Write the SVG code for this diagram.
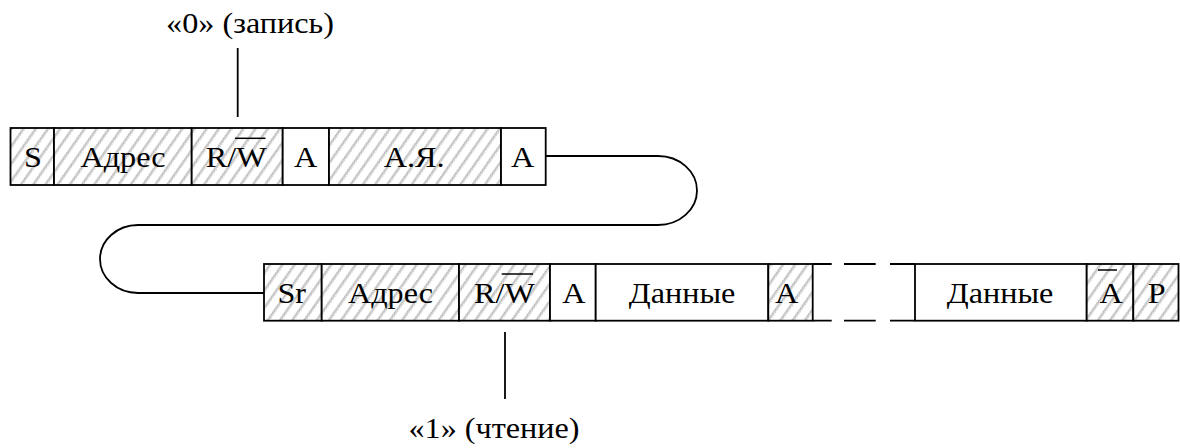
<svg xmlns="http://www.w3.org/2000/svg" width="1180" height="448" viewBox="0 0 1180 448">
  <defs>
    <!-- diagonal braided hatching for the shaded fields -->
    <pattern id="hatch" patternUnits="userSpaceOnUse" width="10" height="6" patternTransform="rotate(35)">
      <rect width="10" height="6" fill="#fff"/>
      <path d="M2 0 L4.4 3 L2 6 M4.4 0 L2 3 L4.4 6" stroke="#a8a8a8" stroke-width="0.9" fill="none"/>
    </pattern>
    <style>
      .box { stroke: #000; stroke-width: 1.8; }
      .sh { fill: url(#hatch); }
      .wh { fill: #fff; }
      .t { font-family: "Liberation Serif", "Times New Roman", serif; font-size: 28.5px; fill: #000; text-anchor: middle; }
      .ln { stroke: #000; stroke-width: 1.8; fill: none; }
      .ov { stroke: #000; stroke-width: 1.5; }
    </style>
  </defs>
  <rect width="1180" height="448" fill="#fff"/>

  <!-- connectors: loop between the two frames and the R/W callouts -->
  <g id="connectors">
    <path class="ln" d="M545.7 156 H658 A39 34.5 0 0 1 658 225 H138 A38 34 0 0 0 138 293 H264"/>
    <line class="ln" x1="237.7" y1="48" x2="237.7" y2="117"/>
    <line class="ln" x1="505" y1="332" x2="505" y2="399"/>
    <!-- broken continuation of the data stream -->
    <path class="ln" d="M812.7 264 H831.7 M844 264 H875.7 M890 264 H915 M812.7 320.7 H831.7 M844 320.7 H875.7 M890 320.7 H915"/>
  </g>

  <!-- labels (glyphs widened 1.13x, as in the printed figure) -->
  <g id="label-write">
    <text class="t" transform="translate(250 33.3) scale(1.13 1)">«0» (запись)</text>
  </g>
  <g id="label-read">
    <text class="t" transform="translate(494 438) scale(1.13 1)">«1» (чтение)</text>
  </g>

  <!-- first frame -->
  <g id="f1-s">
    <rect class="box sh" x="10.5" y="128" width="43.5" height="57"/>
    <text class="t" transform="translate(33 166.7) scale(1.13 1)">S</text>
  </g>
  <g id="f1-addr">
    <rect class="box sh" x="54" y="128" width="137.7" height="57"/>
    <text class="t" transform="translate(123 166.7) scale(1.13 1)">Адрес</text>
  </g>
  <g id="f1-rw">
    <rect class="box sh" x="191.7" y="128" width="91" height="57"/>
    <text class="t" transform="translate(236.2 166.7) scale(1.13 1)">R/W</text>
    <line class="ov" x1="235" y1="138.3" x2="265.5" y2="138.3"/>
  </g>
  <g id="f1-ack1">
    <rect class="box wh" x="282.7" y="128" width="46.3" height="57"/>
    <text class="t" transform="translate(305.5 166.7) scale(1.13 1)">A</text>
  </g>
  <g id="f1-cell">
    <rect class="box sh" x="329" y="128" width="172" height="57"/>
    <text class="t" transform="translate(414.2 166.7) scale(1.13 1)">А.Я.</text>
  </g>
  <g id="f1-ack2">
    <rect class="box wh" x="501" y="128" width="44.7" height="57"/>
    <text class="t" transform="translate(522.5 166.7) scale(1.13 1)">A</text>
  </g>

  <!-- second frame -->
  <g id="f2-sr">
    <rect class="box sh" x="264" y="264" width="57.7" height="56.7"/>
    <text class="t" transform="translate(291.7 302.7) scale(1.13 1)">Sr</text>
  </g>
  <g id="f2-addr">
    <rect class="box sh" x="321.7" y="264" width="137.3" height="56.7"/>
    <text class="t" transform="translate(390.5 302.7) scale(1.13 1)">Адрес</text>
  </g>
  <g id="f2-rw">
    <rect class="box sh" x="459" y="264" width="91" height="56.7"/>
    <text class="t" transform="translate(504.5 302.7) scale(1.13 1)">R/W</text>
    <line class="ov" x1="501.7" y1="274" x2="533" y2="274"/>
  </g>
  <g id="f2-ack">
    <rect class="box wh" x="550" y="264" width="45.7" height="56.7"/>
    <text class="t" transform="translate(573.8 302.7) scale(1.13 1)">A</text>
  </g>
  <g id="f2-data1">
    <rect class="box wh" x="595.7" y="264" width="172.6" height="56.7"/>
    <text class="t" transform="translate(682 302.7) scale(1.13 1)">Данные</text>
  </g>
  <g id="f2-ack-data">
    <rect class="box sh" x="768.3" y="264" width="44.4" height="56.7"/>
    <text class="t" transform="translate(786.5 302.7) scale(1.13 1)">A</text>
  </g>
  <g id="f2-data2">
    <rect class="box wh" x="915" y="264" width="171.7" height="56.7"/>
    <text class="t" transform="translate(1000 302.7) scale(1.13 1)">Данные</text>
  </g>
  <g id="f2-nack">
    <rect class="box sh" x="1086.7" y="264" width="46.6" height="56.7"/>
    <text class="t" transform="translate(1111.2 302.7) scale(1.13 1)">A</text>
    <line class="ov" x1="1098" y1="270" x2="1117" y2="270"/>
  </g>
  <g id="f2-stop">
    <rect class="box sh" x="1133.3" y="264" width="45.2" height="56.7"/>
    <text class="t" transform="translate(1156.7 302.7) scale(1.13 1)">P</text>
  </g>
</svg>
